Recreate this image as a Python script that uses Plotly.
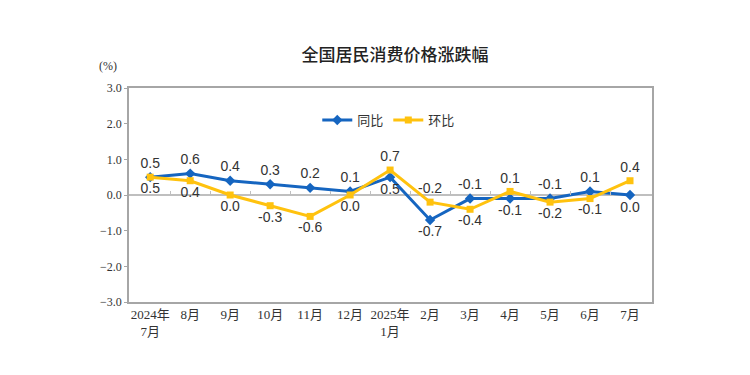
import plotly.graph_objects as go

categories = ["2024年<br>7月", "8月", "9月", "10月", "11月", "12月", "2025年<br>1月",
              "2月", "3月", "4月", "5月", "6月", "7月"]
yoy = [0.5, 0.6, 0.4, 0.3, 0.2, 0.1, 0.5, -0.7, -0.1, -0.1, -0.1, 0.1, 0.0]
mom = [0.5, 0.4, 0.0, -0.3, -0.6, 0.0, 0.7, -0.2, -0.4, 0.1, -0.2, -0.1, 0.4]
yoy_pos = ["top center"] * 6 + ["bottom center", "bottom center", "top center",
           "bottom center", "top center", "top center", "bottom center"]
mom_pos = ["bottom center"] * 6 + ["top center", "top center", "bottom center",
           "top center", "bottom center", "bottom center", "top center"]

idx = list(range(len(categories)))
BLUE = "#1565C0"
GOLD = "#FFC20E"
LABEL_FONT = dict(family="Liberation Sans, Arial, sans-serif", size=14, color="#333333")

fig = go.Figure()
fig.add_trace(go.Scatter(
    x=idx, y=yoy, name="同比", mode="lines+markers+text",
    line=dict(color=BLUE, width=3),
    marker=dict(symbol="diamond", size=8, color=BLUE),
    text=[f"{v:.1f}" for v in yoy], textposition=yoy_pos, textfont=LABEL_FONT,
    hoverinfo="skip"))
fig.add_trace(go.Scatter(
    x=idx, y=mom, name="环比", mode="lines+markers+text",
    line=dict(color=GOLD, width=3),
    marker=dict(symbol="square", size=7, color=GOLD),
    text=[f"{v:.1f}" for v in mom], textposition=mom_pos, textfont=LABEL_FONT,
    hoverinfo="skip"))
# invisible helper trace for zero-line tick axis
fig.add_trace(go.Scatter(x=idx, y=yoy, xaxis="x2", mode="lines", opacity=0,
                         showlegend=False, hoverinfo="skip"))

xr = [-0.53, 12.55]
fig.update_layout(
    width=750, height=375,
    margin=dict(l=121, r=106, t=80, b=81),
    paper_bgcolor="white", plot_bgcolor="white",
    title=dict(text="全国居民消费价格涨跌幅", x=387 / 750, xanchor="center",
               y=1 - 47 / 375, yanchor="middle", yref="container",
               font=dict(family="Noto Sans CJK SC", size=17, color="#222222", weight=500)),
    xaxis=dict(range=xr, tickmode="array", tickvals=idx, ticktext=categories,
               showgrid=False, zeroline=False, showline=True, linecolor="#A6A6A6",
               linewidth=1.5, mirror=True, ticks="",
               tickfont=dict(family="Liberation Serif, Noto Sans CJK SC", size=13, color="#333333")),
    xaxis2=dict(range=xr, overlaying="x", anchor="free", position=0.5,
                tickmode="array", tickvals=[i + 0.5 for i in idx[:-1]],
                ticks="inside", ticklen=4, tickcolor="#BFBFBF", tickwidth=1,
                showticklabels=False, showgrid=False, showline=False, zeroline=False),
    yaxis=dict(range=[-3, 3], dtick=1, tickformat=".1f", showgrid=False,
               zeroline=True, zerolinecolor="#BFBFBF", zerolinewidth=1.5,
               showline=True, linecolor="#A6A6A6", linewidth=1.5, mirror=True,
               ticks="outside", ticklen=3, tickcolor="#A6A6A6",
               tickfont=dict(family="Liberation Serif, serif", size=12, color="#333333")),
    legend=dict(orientation="h", x=0.36, y=0.85, xanchor="left", yanchor="middle",
                font=dict(family="Noto Sans CJK SC", size=13, color="#333333"),
                bgcolor="rgba(0,0,0,0)"),
    annotations=[dict(text="(%)", xref="paper", yref="paper", x=(108 - 129) / 523,
                      y=(302 - 66) / 214, showarrow=False, xanchor="center",
                      yanchor="middle",
                      font=dict(family="Liberation Serif, serif", size=12, color="#333333"))],
)
fig.write_html("out.html")
